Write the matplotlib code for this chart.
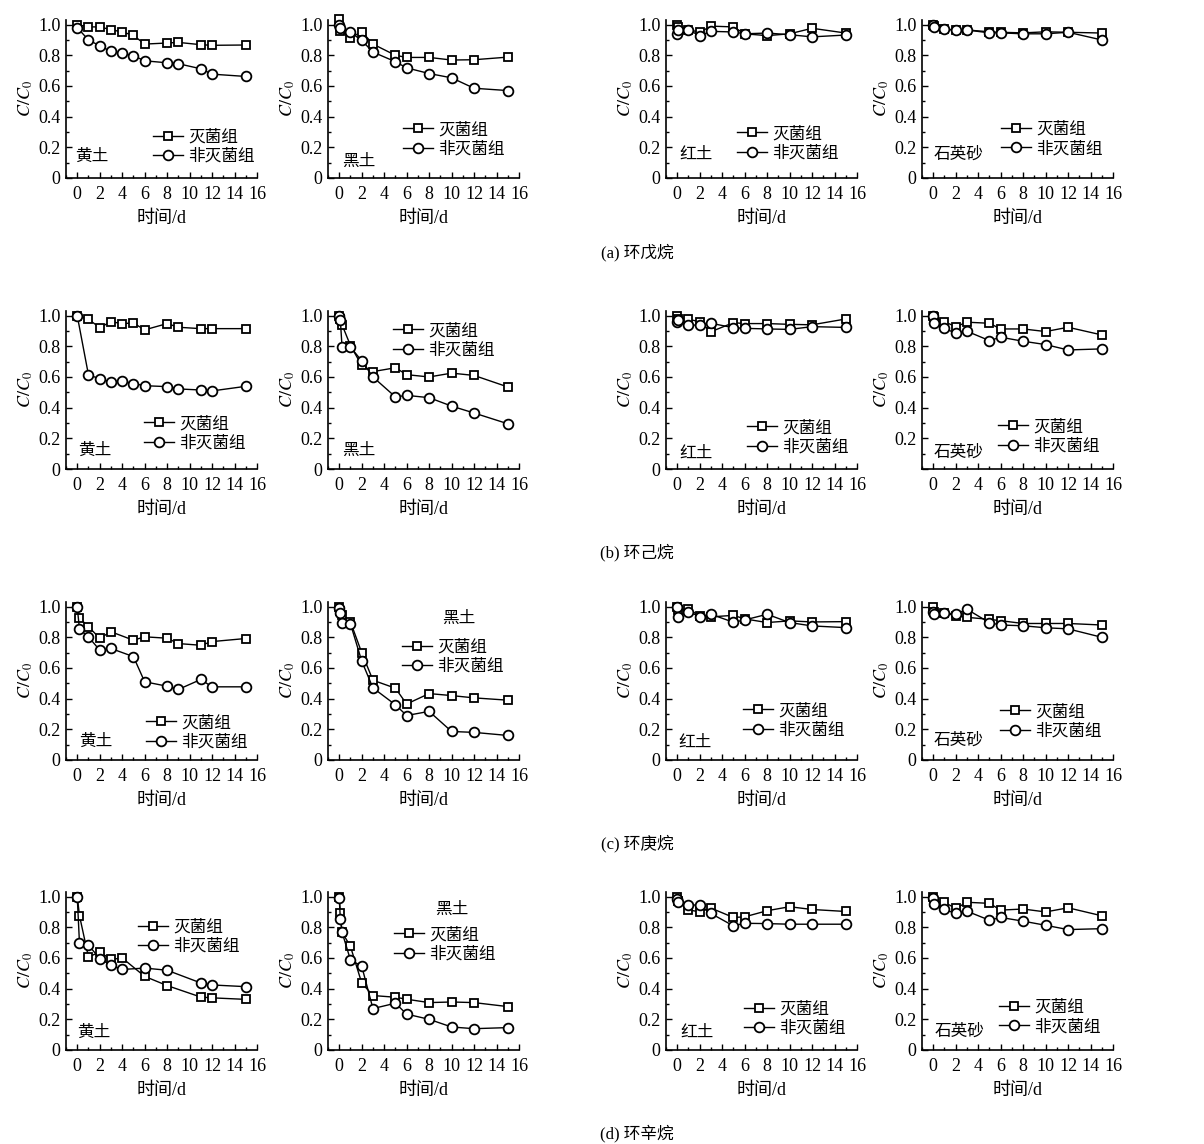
import matplotlib.pyplot as plt
from matplotlib.ticker import MultipleLocator

plt.rcParams['font.family'] = ['Liberation Serif', 'Noto Sans CJK SC']
plt.rcParams['mathtext.fontset'] = 'stix'

# time axes (d)
t_loess = [0, 1, 2, 3, 4, 5, 6, 8, 9, 11, 12, 15]
t_std = [0, 0.1, 1, 2, 3, 5, 6, 8, 10, 12, 15]
t_black = [0, 0.1, 0.25, 1, 2, 3, 5, 6, 8, 10, 12, 15]
t_c_loess = [0, 0.2, 1, 2, 3, 5, 6, 8, 9, 11, 12, 15]
t_d_loess = [0, 0.2, 1, 2, 3, 4, 6, 8, 11, 12, 15]

soils = ['黄土', '黑土', '红土', '石英砂']
captions = ['(a) 环戊烷', '(b) 环己烷', '(c) 环庚烷', '(d) 环辛烷']
legend_labels = ['灭菌组', '非灭菌组']
y_ticks = [0, 0.2, 0.4, 0.6, 0.8, 1.0]
y_ticklabels = ['0', '0.2', '0.4', '0.6', '0.8', '1.0']
x_ticks = [0, 2, 4, 6, 8, 10, 12, 14, 16]

# (a) cyclopentane: sterilized (sq) / non-sterilized (ci)
a_loess_sq = [1.0, 0.985, 0.985, 0.967, 0.952, 0.93, 0.873, 0.88, 0.884, 0.869, 0.865, 0.867]
a_loess_ci = [0.98, 0.90, 0.862, 0.825, 0.814, 0.797, 0.764, 0.751, 0.745, 0.712, 0.677, 0.662]
a_black_sq = [1.035, 0.96, 0.913, 0.954, 0.873, 0.80, 0.786, 0.786, 0.769, 0.771, 0.788]
a_black_ci = [0.996, 0.978, 0.95, 0.897, 0.821, 0.758, 0.718, 0.681, 0.653, 0.585, 0.57]
a_red_sq = [1.0, 0.985, 0.967, 0.95, 0.99, 0.985, 0.94, 0.928, 0.94, 0.976, 0.945]
a_red_ci = [0.94, 0.965, 0.965, 0.928, 0.956, 0.952, 0.94, 0.945, 0.934, 0.92, 0.932]
a_sand_sq = [1.0, 0.99, 0.97, 0.965, 0.965, 0.953, 0.95, 0.946, 0.953, 0.95, 0.945]
a_sand_ci = [1.0, 0.985, 0.97, 0.965, 0.965, 0.946, 0.946, 0.94, 0.94, 0.95, 0.90]

# (b) cyclohexane
b_loess_sq = [0.998, 0.976, 0.922, 0.96, 0.948, 0.952, 0.907, 0.948, 0.924, 0.915, 0.915, 0.915]
b_loess_ci = [1.0, 0.613, 0.589, 0.567, 0.574, 0.557, 0.543, 0.537, 0.522, 0.515, 0.509, 0.539]
b_black_sq = [1.0, 0.975, 0.94, 0.805, 0.675, 0.635, 0.66, 0.615, 0.60, 0.625, 0.61, 0.535]
b_black_ci = [0.995, 0.97, 0.795, 0.795, 0.705, 0.60, 0.47, 0.48, 0.465, 0.41, 0.365, 0.295]
b_red_sq = [1.0, 0.98, 0.976, 0.96, 0.895, 0.954, 0.948, 0.948, 0.943, 0.94, 0.978]
b_red_ci = [0.96, 0.97, 0.937, 0.939, 0.95, 0.921, 0.917, 0.913, 0.91, 0.928, 0.923]
b_sand_sq = [1.0, 0.99, 0.96, 0.928, 0.957, 0.95, 0.913, 0.913, 0.896, 0.924, 0.874]
b_sand_ci = [0.996, 0.952, 0.917, 0.885, 0.898, 0.837, 0.859, 0.833, 0.811, 0.776, 0.783]

# (c) cycloheptane
c_loess_sq = [1.0, 0.925, 0.869, 0.794, 0.836, 0.781, 0.803, 0.794, 0.759, 0.748, 0.772, 0.792]
c_loess_ci = [0.996, 0.853, 0.803, 0.716, 0.727, 0.674, 0.51, 0.481, 0.46, 0.525, 0.477, 0.477]
c_black_sq = [1.0, 0.97, 0.945, 0.90, 0.70, 0.52, 0.468, 0.365, 0.433, 0.42, 0.405, 0.39]
c_black_ci = [0.99, 0.96, 0.89, 0.888, 0.645, 0.47, 0.36, 0.29, 0.317, 0.186, 0.18, 0.16]
c_red_sq = [1.0, 0.98, 0.983, 0.94, 0.933, 0.943, 0.92, 0.896, 0.907, 0.90, 0.902]
c_red_ci = [1.0, 0.935, 0.967, 0.935, 0.95, 0.898, 0.913, 0.95, 0.896, 0.874, 0.863]
c_sand_sq = [1.0, 0.967, 0.96, 0.94, 0.93, 0.917, 0.908, 0.89, 0.89, 0.89, 0.88]
c_sand_ci = [0.965, 0.95, 0.96, 0.95, 0.983, 0.895, 0.88, 0.875, 0.862, 0.855, 0.80]

# (d) cyclooctane
d_loess_sq = [1.0, 0.876, 0.605, 0.64, 0.59, 0.60, 0.48, 0.42, 0.345, 0.34, 0.33]
d_loess_ci = [1.0, 0.695, 0.684, 0.596, 0.552, 0.525, 0.534, 0.52, 0.437, 0.424, 0.413]
d_black_sq = [1.0, 0.89, 0.768, 0.675, 0.437, 0.355, 0.344, 0.331, 0.309, 0.313, 0.309, 0.283]
d_black_ci = [0.993, 0.852, 0.768, 0.587, 0.547, 0.27, 0.305, 0.234, 0.20, 0.15, 0.139, 0.146]
d_red_sq = [1.0, 0.974, 0.914, 0.90, 0.925, 0.864, 0.868, 0.908, 0.934, 0.916, 0.903]
d_red_ci = [0.985, 0.967, 0.945, 0.945, 0.89, 0.809, 0.826, 0.824, 0.82, 0.82, 0.82]
d_sand_sq = [1.0, 0.967, 0.963, 0.923, 0.963, 0.956, 0.912, 0.919, 0.90, 0.927, 0.875]
d_sand_ci = [0.99, 0.95, 0.916, 0.89, 0.905, 0.846, 0.864, 0.84, 0.813, 0.785, 0.791]

panels = [
    [(t_loess, a_loess_sq, a_loess_ci), (t_std, a_black_sq, a_black_ci),
     (t_std, a_red_sq, a_red_ci), (t_std, a_sand_sq, a_sand_ci)],
    [(t_loess, b_loess_sq, b_loess_ci), (t_black, b_black_sq, b_black_ci),
     (t_std, b_red_sq, b_red_ci), (t_std, b_sand_sq, b_sand_ci)],
    [(t_c_loess, c_loess_sq, c_loess_ci), (t_black, c_black_sq, c_black_ci),
     (t_std, c_red_sq, c_red_ci), (t_std, c_sand_sq, c_sand_ci)],
    [(t_d_loess, d_loess_sq, d_loess_ci), (t_black, d_black_sq, d_black_ci),
     (t_std, d_red_sq, d_red_ci), (t_std, d_sand_sq, d_sand_ci)],
]

# legend anchor (center-left, axes fraction) and soil label position
leg_pos = [
    [(0.455, 0.194), (0.393, 0.241), (0.372, 0.216), (0.414, 0.244)],
    [(0.408, 0.222), (0.340, 0.812), (0.424, 0.197), (0.398, 0.203)],
    [(0.419, 0.171), (0.387, 0.650), (0.403, 0.247), (0.408, 0.241)],
    [(0.377, 0.714), (0.346, 0.666), (0.408, 0.194), (0.403, 0.206)],
]
lab_pos = [
    [(0.047, 0.133), (0.073, 0.10), (0.068, 0.146), (0.058, 0.146)],
    [(0.063, 0.114), (0.073, 0.114), (0.068, 0.10), (0.063, 0.10)],
    [(0.068, 0.114), (0.597, 0.895), (0.063, 0.108), (0.058, 0.12)],
    [(0.058, 0.108), (0.560, 0.888), (0.073, 0.108), (0.068, 0.114)],
]
cap_y = [0.779, 0.517, 0.263, 0.009]

W, H = 1204, 1144
col_left = [66, 328, 666, 922]
row_bottom = [178, 469, 760, 1050]
ax_w, ax_h = 191, 158

fig = plt.figure(figsize=(W / 100, H / 100), dpi=100)

for r in range(4):
    for c in range(4):
        ax = fig.add_axes([col_left[c] / W, 1 - row_bottom[r] / H, ax_w / W, ax_h / H])
        t, sq, ci = panels[r][c]
        style = dict(color='black', lw=1.0, mfc='white', mec='black', mew=1.3, clip_on=False)
        h1, = ax.plot(t, sq, marker='s', ms=6, **style)
        h2, = ax.plot(t, ci, marker='o', ms=7, **style)
        ax.set_xlim(-1, 16)
        ax.set_ylim(0, 1.03)
        ax.set_xticks(x_ticks)
        ax.set_yticks(y_ticks)
        ax.set_yticklabels(y_ticklabels if not (r == 1 and c == 3) else [''] + y_ticklabels[1:])
        ax.xaxis.set_minor_locator(MultipleLocator(1))
        ax.yaxis.set_minor_locator(MultipleLocator(0.1))
        ax.tick_params(which='both', direction='in', labelsize=13, width=1)
        ax.tick_params(which='major', length=4)
        ax.tick_params(axis='x', which='major', pad=6)
        ax.tick_params(axis='y', which='major', pad=4)
        ax.tick_params(which='minor', length=2)
        for s in ['top', 'right']:
            ax.spines[s].set_visible(False)
        for s in ['left', 'bottom']:
            ax.spines[s].set_linewidth(1.2)
        ax.set_xlabel('时间/d', fontsize=13, labelpad=5)
        ax.set_ylabel(r'$C/C_{\rm 0}$', fontsize=13, labelpad=2)
        ax.legend([h1, h2], legend_labels, loc='center left', bbox_to_anchor=leg_pos[r][c],
                  frameon=False, borderpad=0, borderaxespad=0, handlelength=1.8,
                  handletextpad=0.3, labelspacing=0.2, fontsize=12)
        ax.text(lab_pos[r][c][0], lab_pos[r][c][1], soils[c], transform=ax.transAxes,
                ha='left', va='center', fontsize=12)
    fig.text(0.529, cap_y[r], captions[r], ha='center', va='center', fontsize=12)

fig.savefig('out.png', dpi=100)
